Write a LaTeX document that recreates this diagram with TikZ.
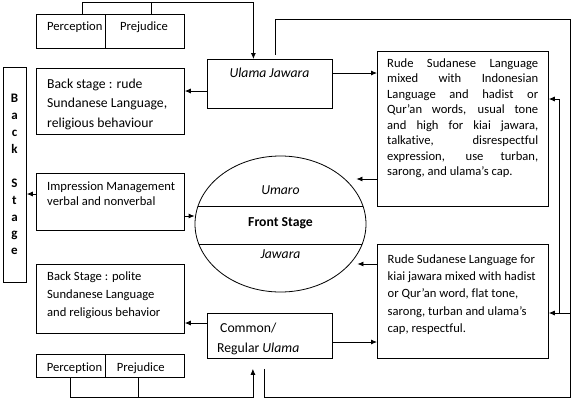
\documentclass[tikz,border=0pt]{standalone}
\usepackage{fontspec}
\setmainfont{Carlito}[Ligatures=NoCommon]
\usetikzlibrary{arrows.meta,shapes.geometric,calc}
\newcommand{\mytop}{\rule{0pt}{11pt}}
\newcommand{\jl}[1]{\makebox[151pt][s]{#1}}
\begin{document}
\begin{tikzpicture}[x=1pt,y=-1pt,
  box/.style={draw,line width=0.8pt,inner sep=0pt,anchor=north west},
  ln/.style={line width=0.8pt},
  arr/.style={line width=0.8pt,-{Latex[length=6pt,width=5pt]}},
  txt/.style={inner sep=0pt,font=\fontsize{12.6}{15}\selectfont},
  big/.style={inner sep=0pt,font=\fontsize{13.7}{16}\selectfont},
  ml/.style={txt,anchor=north west,align=left}]
\useasboundingbox (0,0) rectangle (574,400);
\fill[white] (0,0) rectangle (574,400);

% boxes
\node[box,minimum width=148pt,minimum height=34pt] (ppT) at (36,14) {};
\node[box,minimum width=125pt,minimum height=49pt] (uj) at (207,59) {};
\node[box,minimum width=148pt,minimum height=66pt] (bsR) at (36,68) {};
\node[box,minimum width=23pt,minimum height=215pt] (bsV) at (3,67) {};
\node[box,minimum width=148pt,minimum height=57pt] (im) at (36,173) {};
\node[draw,line width=0.8pt,ellipse,inner sep=0pt,minimum width=171pt,minimum height=136pt] (fs) at (280.5,224) {};
\node[box,minimum width=148pt,minimum height=69pt] (bsP) at (36,264) {};
\node[box,minimum width=125pt,minimum height=45pt] (cu) at (207,313) {};
\node[box,minimum width=148pt,minimum height=23pt] (ppB) at (36,354) {};
\node[box,minimum width=171pt,minimum height=155pt] (rt) at (377,51) {};
\node[box,minimum width=171pt,minimum height=114pt] (rb) at (377,244) {};

% dividers
\draw[ln] ([xshift=69pt]ppT.north west) -- ([xshift=69pt]ppT.south west);
\draw[ln] ([xshift=69pt]ppB.north west) -- ([xshift=69pt]ppB.south west);
\begin{scope}
  \clip (fs.center) ellipse [x radius=85.5pt, y radius=68pt];
  \draw[ln] (180,206) -- (380,206);
  \draw[ln] (180,244) -- (380,244);
\end{scope}

% texts
\node[txt,anchor=base west] (tP1) at (47,30.5) {Perception};
\node[txt,anchor=base west] (tP2) at (120,30.5) {Prejudice};
\node[big,anchor=base] (tUJ) at (269.5,77) {\textit{Ulama Jawara}};
\node[big,anchor=north west,align=left,font=\fontsize{13.7}{19.5}\selectfont] (tBR) at (47,77) {\mytop Back stage : rude\\Sundanese Language,\\religious behaviour};
\node[txt,anchor=north,align=center,font=\fontsize{13}{16.9}\selectfont\bfseries] (tBV) at (14.5,91.5) {\mytop B\\a\\c\\k\\\mbox{}\\S\\t\\a\\g\\e};
\node[ml,font=\fontsize{12.6}{15}\selectfont] (tIM) at (47,179.5) {\mytop Impression Management\\verbal and nonverbal};
\node[ml,font=\fontsize{12.6}{18.3}\selectfont] (tBP) at (47,269) {\mytop Back Stage : polite\\Sundanese Language\\and religious behavior};
\node[big,anchor=base west] (tC1) at (220,332) {Common/};
\node[big,anchor=base west] (tC2) at (217,352) {Regular \textit{Ulama}};
\node[txt,anchor=base west] (tP3) at (46.7,371.5) {Perception};
\node[txt,anchor=base west] (tP4) at (116.7,371.5) {Prejudice};
\node[big,anchor=base] (tUm) at (280.5,194.5) {\textit{Umaro}};
\node[big,anchor=base] (tFS) at (280.5,226.5) {\textbf{Front Stage}};
\node[big,anchor=base] (tJw) at (280.5,258.5) {\textit{Jawara}};
\node[ml,font=\fontsize{12.6}{15.5}\selectfont] (tRT) at (387,56) {\mytop\jl{Rude Sudanese Language}\\\jl{mixed with Indonesian}\\\jl{Language and hadist or}\\\jl{Qur’an words, usual tone}\\\jl{and high for kiai jawara,}\\\jl{talkative, disrespectful}\\\jl{expression, use turban,}\\sarong, and ulama’s cap.};
\node[ml,font=\fontsize{12.6}{17.3}\selectfont] (tRB) at (387.5,252) {\mytop Rude Sudanese Language for\\kiai jawara mixed with hadist\\or Qur’an word, flat tone,\\sarong, turban and ulama’s\\cap, respectful.};

% level coordinates
\coordinate (ytop) at (0,2);
\coordinate (ybot) at (0,397.5);
\coordinate (yL) at (0,19);
\coordinate (xR) at (570,0);
\coordinate (xM) at (559,0);
\coordinate (L73) at (0,73);
\coordinate (L91) at (0,91);
\coordinate (L179) at (0,179);
\coordinate (L194) at (0,194);
\coordinate (L216) at (0,216);
\coordinate (L264) at (0,264);
\coordinate (L323) at (0,323);
\coordinate (L342) at (0,342);
\coordinate (yB1) at (0,313);
\coordinate (yT1) at (0,99);
\coordinate (e1) at ([xshift=-10pt]fs.east);
\coordinate (e2) at ([xshift=-9pt]fs.east);

% top perception connector
\coordinate (tA) at ([xshift=46pt]ppT.north west);
\coordinate (tB) at ([xshift=115pt]ppT.north west);
\coordinate (jT) at ([xshift=-16.5pt]uj.north);
\draw[arr] (tA) |- (jT |- ytop) -- (jT);
\draw[ln] (tB) -- (tB |- ytop);

% bottom perception connector
\coordinate (bA) at ([xshift=34.7pt]ppB.south west);
\coordinate (bB) at ([xshift=102.7pt]ppB.south west);
\coordinate (jB) at ([xshift=-17pt,yshift=-10pt]cu.south);
\draw[arr] (bA) |- (jB |- ybot) -- (jB);
\draw[ln] (bB) -- (bB |- ybot);

% big loop
\coordinate (lS) at ([xshift=-5.5pt,yshift=-10pt]cu.south);
\coordinate (lE) at ([xshift=5.5pt,yshift=4pt]uj.north);
\draw[ln] (lS) -- (lS |- ybot) -| (xR |- yL) -| (lE);
\draw[arr] (xR |- yB1) -- (rb.east |- yB1);
\draw[arr] (xM |- yB1) |- (rt.east |- yT1);

% arrows
\draw[arr] (uj.west |- L91) -- (bsR.east |- L91);
\draw[arr] (uj.east |- L73) -- (rt.west |- L73);
\draw[arr] (rt.west |- L179) -- (e1 |- L179);
\draw[arr] (rb.west |- L264) -- (e2 |- L264);
\draw[arr] (cu.east |- L342) -- (rb.west |- L342);
\draw[arr] (cu.west |- L323) -- (bsP.east |- L323);
\draw[arr] (im.east |- L216) -- (fs.west |- L216);
\draw[arr] (im.west |- L194) -- (bsV.east |- L194);
\end{tikzpicture}
\end{document}
